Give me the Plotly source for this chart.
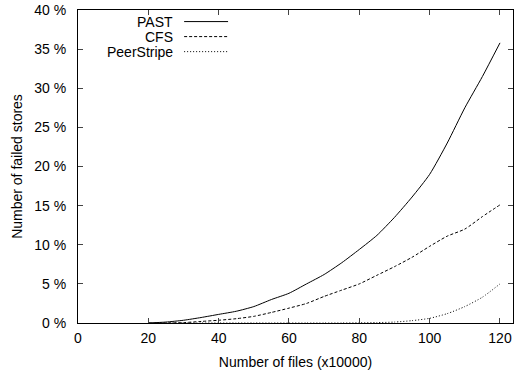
import plotly.graph_objects as go

x_files = [20, 25, 30, 35, 40, 45, 50, 55, 60, 65, 70, 75, 80, 85, 90, 95, 100, 105, 110, 115, 120]
past = [0.0, 0.12, 0.35, 0.7, 1.1, 1.5, 2.1, 3.0, 3.8, 5.0, 6.2, 7.7, 9.4, 11.2, 13.5, 16.1, 19.0, 23.0, 27.5, 31.5, 35.8]
cfs = [0.0, 0.0, 0.05, 0.2, 0.35, 0.55, 0.85, 1.35, 1.9, 2.5, 3.4, 4.2, 5.0, 6.1, 7.2, 8.4, 9.8, 11.1, 12.0, 13.6, 15.1]
peerstripe = [0, 0, 0, 0, 0, 0, 0, 0, 0, 0, 0, 0, 0.02, 0.05, 0.12, 0.3, 0.6, 1.2, 2.1, 3.3, 5.0]

series_names = ["PAST", "CFS", "PeerStripe"]
series_vals = [past, cfs, peerstripe]
dashes = ["solid", "3px,2px", "1px,2px"]

x_ticks = [0, 20, 40, 60, 80, 100, 120]
y_ticks = [0, 5, 10, 15, 20, 25, 30, 35, 40]
y_tick_labels = [f"{v} %" for v in y_ticks]

FONT = "Liberation Sans, Arial, Helvetica, sans-serif"
FS = 14

fig = go.Figure()
for name, vals, d in zip(series_names, series_vals, dashes):
    fig.add_trace(go.Scatter(x=x_files, y=vals, mode="lines", name=name,
                             line=dict(color="black", width=1, dash=d, shape="spline", smoothing=0.6),
                             showlegend=False))

# legend (gnuplot style: text then line sample)
for i, (name, d) in enumerate(zip(series_names, dashes)):
    yp = 0.963 - i * 0.048
    fig.add_annotation(x=0.223, y=yp, xref="paper", yref="paper", text=name,
                       showarrow=False, xanchor="right", yanchor="middle",
                       font=dict(family=FONT, size=FS, color="black"))
    fig.add_shape(type="line", xref="paper", yref="paper",
                  x0=0.244, x1=0.345, y0=yp, y1=yp,
                  line=dict(color="black", width=1, dash=d))

fig.update_layout(
    width=514, height=373,
    margin=dict(l=78, r=1, t=10, b=50),
    paper_bgcolor="white", plot_bgcolor="white",
    font=dict(family=FONT, size=FS, color="black"),
)
fig.update_xaxes(range=[0, 123.7], tickvals=x_ticks, ticks="inside", ticklen=5,
                 mirror="allticks", showline=True, linecolor="black", linewidth=1,
                 showgrid=False, zeroline=False, ticklabelstandoff=2,
                 title=dict(text="Number of files (x10000)", standoff=12,
                            font=dict(family=FONT, size=FS)))
fig.update_yaxes(range=[0, 40], tickvals=y_ticks, ticktext=y_tick_labels,
                 ticks="inside", ticklen=5, mirror="allticks", showline=True,
                 linecolor="black", linewidth=1, showgrid=False, zeroline=False,
                 ticklabelstandoff=8,
                 title=dict(text="Number of failed stores", standoff=8,
                            font=dict(family=FONT, size=FS)))

fig.write_html("out.html")
